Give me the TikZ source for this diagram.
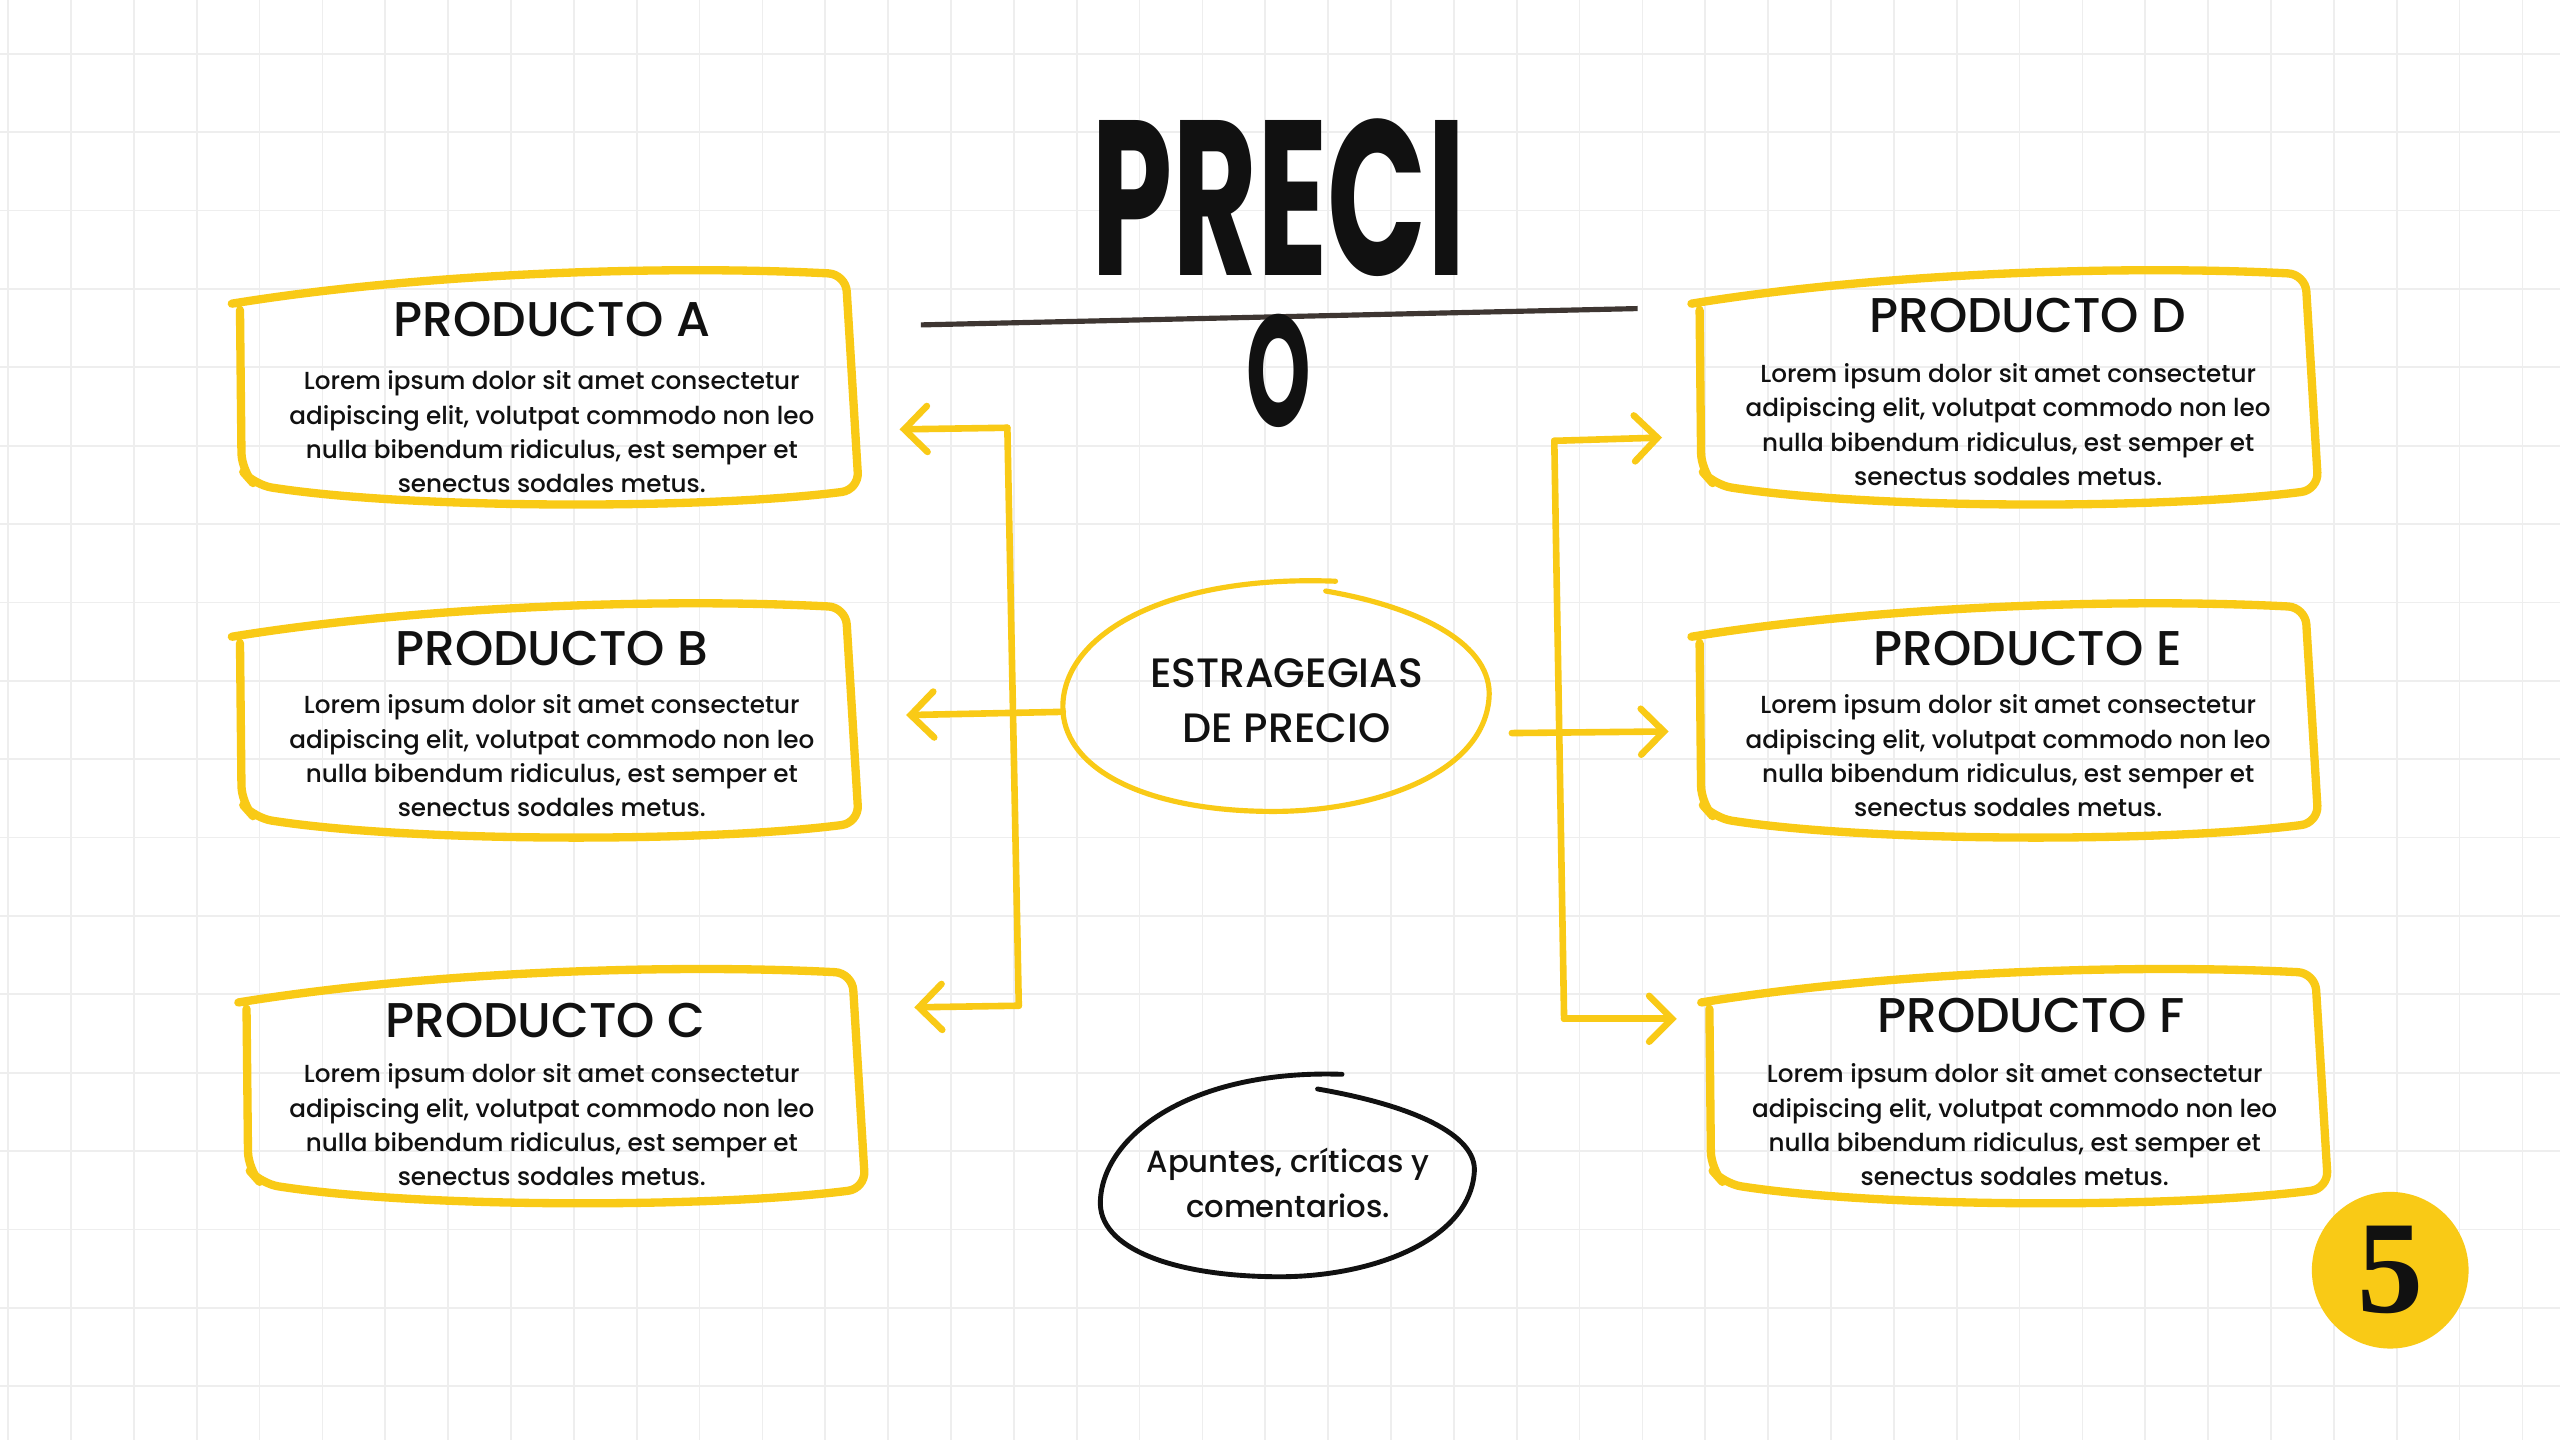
\documentclass[tikz,border=0pt]{standalone}
\usepackage{fontspec}
\setmainfont{Poppins}[UprightFont={* Medium}, BoldFont={* Bold}]
\newfontfamily\numfont{Liberation Serif}
\usetikzlibrary{arrows.meta}
\definecolor{yel}{RGB}{249,202,22}
\definecolor{gridc}{RGB}{238,238,238}
\definecolor{ink}{RGB}{17,17,17}
\definecolor{rulec}{RGB}{62,54,50}
\newcommand{\prodbox}[2]{%
  \draw[ybox, shift={(#1,#2)}] (0,2) .. controls (110,-16) and (260,-22) .. (376,-16)
     -- (384,116) .. controls (290,128) and (110,128) .. (14,113) -- (6,104) -- (5,6);
}
\newcommand{\lorem}{Lorem ipsum dolor sit amet consectetur\\adipiscing elit, volutpat commodo non leo\\nulla bibendum ridiculus, est semper et\\senectus sodales metus.}
\begin{document}
\begin{tikzpicture}[x=0.02cm,y=-0.02cm,
  ybox/.style={draw=yel, line width=2.9pt, line cap=round, line join=round, rounded corners=6pt},
  conn/.style={draw=yel, line width=2.3pt, line cap=round, line join=round},
  arr/.style={conn, -{Straight Barb[length=8pt,width=16pt,line cap=round]}},
  ptitle/.style={font=\fontsize{17}{20}\selectfont, text=ink, inner sep=0pt},
  pbody/.style={font=\fontsize{8.6}{11.95}\selectfont, text=ink, align=center, inner sep=0pt},
  oval/.style={font=\fontsize{14.3}{19.3}\selectfont, text=ink, align=center, inner sep=0pt},
  note/.style={font=\fontsize{10.7}{15.4}\selectfont, text=ink, align=center, inner sep=0pt},
]
\useasboundingbox (0,0) rectangle (1568,882);
\fill[white] (0,0) rectangle (1568,882);
% grid
\foreach \x in {5,43.5,...,1568} \draw[gridc, line width=0.6pt] (\x,0) -- (\x,882);
\foreach \y in {33,81,...,882} \draw[gridc, line width=0.6pt] (0,\y) -- (1568,\y);

% title
\node[font=\bfseries\fontsize{77}{77}\selectfont, text=ink, inner sep=0pt, anchor=base, text depth=0pt] (tit) at (783,169) {\scalebox{0.59}[1]{PRECI}};
\coordinate (rulel) at (564,199);
\coordinate (ruler) at (1003,189);
\draw[rulec, line width=1.8pt] (rulel) -- (ruler);
\node[font=\bfseries\fontsize{55}{55}\selectfont, text=ink, inner sep=0pt, anchor=base, text height=38pt, text depth=0pt] (tito) at (783,261) {\scalebox{0.52}[1]{O}};

% boxes
\prodbox{142}{184}
\prodbox{142}{388}
\prodbox{146}{612}
\prodbox{1036}{184}
\prodbox{1036}{388}
\prodbox{1042}{612}

\node[ptitle] (ta) at (338,196) {PRODUCTO A};
\node[pbody] (ba) at (338,264.5) {\lorem};
\node[ptitle] (tb) at (338,397) {PRODUCTO B};
\node[pbody] (bb) at (338,463) {\lorem};
\node[ptitle] (tc) at (334,625) {PRODUCTO C};
\node[pbody] (bc) at (338,689) {\lorem};
\node[ptitle] (td) at (1242,193) {PRODUCTO D};
\node[pbody] (bd) at (1230,260) {\lorem};
\node[ptitle] (te) at (1242,397) {PRODUCTO E};
\node[pbody] (be) at (1230,463) {\lorem};
\node[ptitle] (tf) at (1244,622) {PRODUCTO F};
\node[pbody] (bf) at (1234,689) {\lorem};

% central oval
\node[oval] (estr) at (788,429) {ESTRAGEGIAS\\DE PRECIO};
\draw[yel, line width=1.8pt, line cap=round] (812,362) .. controls (870,372) and (915,395) .. (912,428)
   .. controls (908,475) and (840,497) .. (780,497)
   .. controls (700,497) and (650,470) .. (651,432)
   .. controls (652,388) and (715,352) .. (818,356);

% notes oval
\node[note] (notes) at (789,724.5) {Apuntes, críticas y\\comentarios.};
\draw[ink, line width=1.7pt, line cap=round] (807,667) .. controls (865,677) and (905,695) .. (903,718)
   .. controls (900,760) and (840,782) .. (784,782)
   .. controls (720,782) and (672,765) .. (674,735)
   .. controls (676,695) and (730,655) .. (822,658);

% connectors left
\coordinate (lt) at (617,262);
\coordinate (lb) at (624,616);
\coordinate (la) at (551,263);
\coordinate (lm) at (651,436);
\coordinate (lbm) at (555,438);
\coordinate (lc) at (560,617);
\draw[conn] (lt) -- (lb);
\draw[arr] (lt) -- (la);
\draw[arr] (lm) -- (lbm);
\draw[arr] (lb) -- (lc);

% connectors right
\coordinate (rt) at (952,270);
\coordinate (rb) at (958,624);
\coordinate (rd) at (1018,268);
\coordinate (rm) at (926,449);
\coordinate (re) at (1022,448);
\coordinate (rf) at (1027,624);
\draw[conn] (rt) -- (rb);
\draw[arr] (rt) -- (rd);
\draw[arr] (rm) -- (re);
\draw[arr] (rb) -- (rf);

% page number
\node[circle, fill=yel, minimum size=1.92cm, inner sep=0pt, text=ink, font=\numfont\bfseries\fontsize{46}{46}\selectfont] (num) at (1464,778) {5};
\end{tikzpicture}
\end{document}
